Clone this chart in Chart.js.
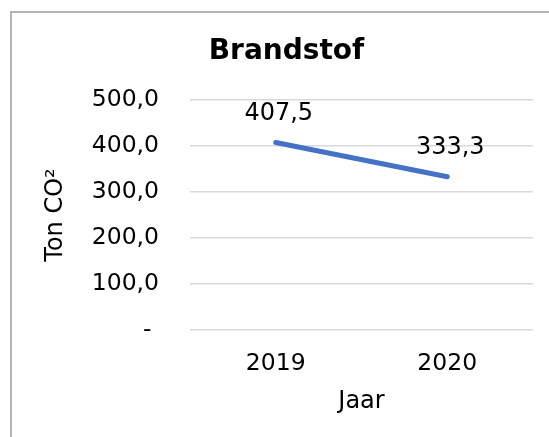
<!DOCTYPE html>
<html>
<head>
<meta charset="utf-8">
<script src="https://cdn.jsdelivr.net/npm/chart.js@4/dist/chart.umd.min.js"></script>
<style>
  html, body { margin: 0; padding: 0; background: #fff; overflow: hidden; }
  #grafico { display: block; }
</style>
</head>
<body>
<canvas id="grafico" width="549" height="437"></canvas>
<script>
const jaren = ['2019', '2020'];
const brandstof = [407.5, 333.3];
const yTicks = [0, 100, 500];

const fonte = 'DejaVu Sans';

function komma(v) {
    return v.toFixed(1).replace('.', ',');
}

// kader links en boven (de rest valt buiten beeld)
const kader = {
    id: 'kader',
    beforeDraw(chart) {
        const ctx = chart.ctx;
        ctx.save();
        ctx.strokeStyle = '#b4b4b4';
        ctx.lineWidth = 2;
        ctx.beginPath();
        ctx.moveTo(11, chart.height + 5);
        ctx.lineTo(11, 12);
        ctx.lineTo(chart.width + 5, 12);
        ctx.stroke();
        ctx.restore();
    }
};

// labels boven de punten
const waardeLabels = {
    id: 'waardeLabels',
    afterDatasetsDraw(chart) {
        const ctx = chart.ctx;
        const meta = chart.getDatasetMeta(0);
        ctx.save();
        ctx.font = '24px "' + fonte + '"';
        ctx.fillStyle = '#000';
        ctx.textAlign = 'center';
        ctx.textBaseline = 'middle';
        meta.data.forEach((pt, i) => {
            ctx.fillText(komma(brandstof[i]), pt.x + 3, pt.y - 29);
        });
        ctx.restore();
    }
};

new Chart(document.getElementById('grafico').getContext('2d'), {
    type: 'line',
    data: {
        labels: jaren,
        datasets: [{
            data: brandstof,
            borderColor: '#4472C4',
            borderWidth: 5,
            borderCapStyle: 'round',
            pointRadius: 0,
            tension: 0
        }]
    },
    options: {
        responsive: false,
        animation: false,
        layout: { padding: { left: 40, right: 16, top: 0, bottom: 0 } },
        plugins: {
            legend: { display: false },
            tooltip: { enabled: false },
            title: {
                display: true,
                text: 'Brandstof',
                color: '#000',
                font: { family: fonte, size: 28, weight: 'bold' },
                padding: { top: 34.5, bottom: 31.9 }
            }
        },
        scales: {
            x: {
                offset: true,
                grid: { display: false },
                border: { display: false },
                ticks: { color: '#000', padding: 12, font: { family: fonte, size: 23.5 } },
                title: {
                    display: true, text: 'Jaar', color: '#000',
                    font: { family: fonte, size: 24 },
                    padding: { top: 0, bottom: 21 }
                },
                afterFit(scale) { scale.height = 107; }
            },
            y: {
                min: yTicks[0],
                max: yTicks[2],
                grid: { color: '#d9d9d9', lineWidth: 1.5, drawTicks: false },
                border: { display: false },
                ticks: {
                    stepSize: yTicks[1],
                    color: '#000',
                    padding: 31,
                    font: { family: fonte, size: 23.5 },
                    callback: v => v === 0 ? '- ' : komma(v)
                },
                title: {
                    display: true, text: 'Ton CO²', color: '#000',
                    font: { family: fonte, size: 24 },
                    padding: { top: 1, bottom: 0 }
                },
                afterFit(scale) { scale.width = 150; }
            }
        }
    },
    plugins: [kader, waardeLabels]
});
</script>
</body>
</html>
